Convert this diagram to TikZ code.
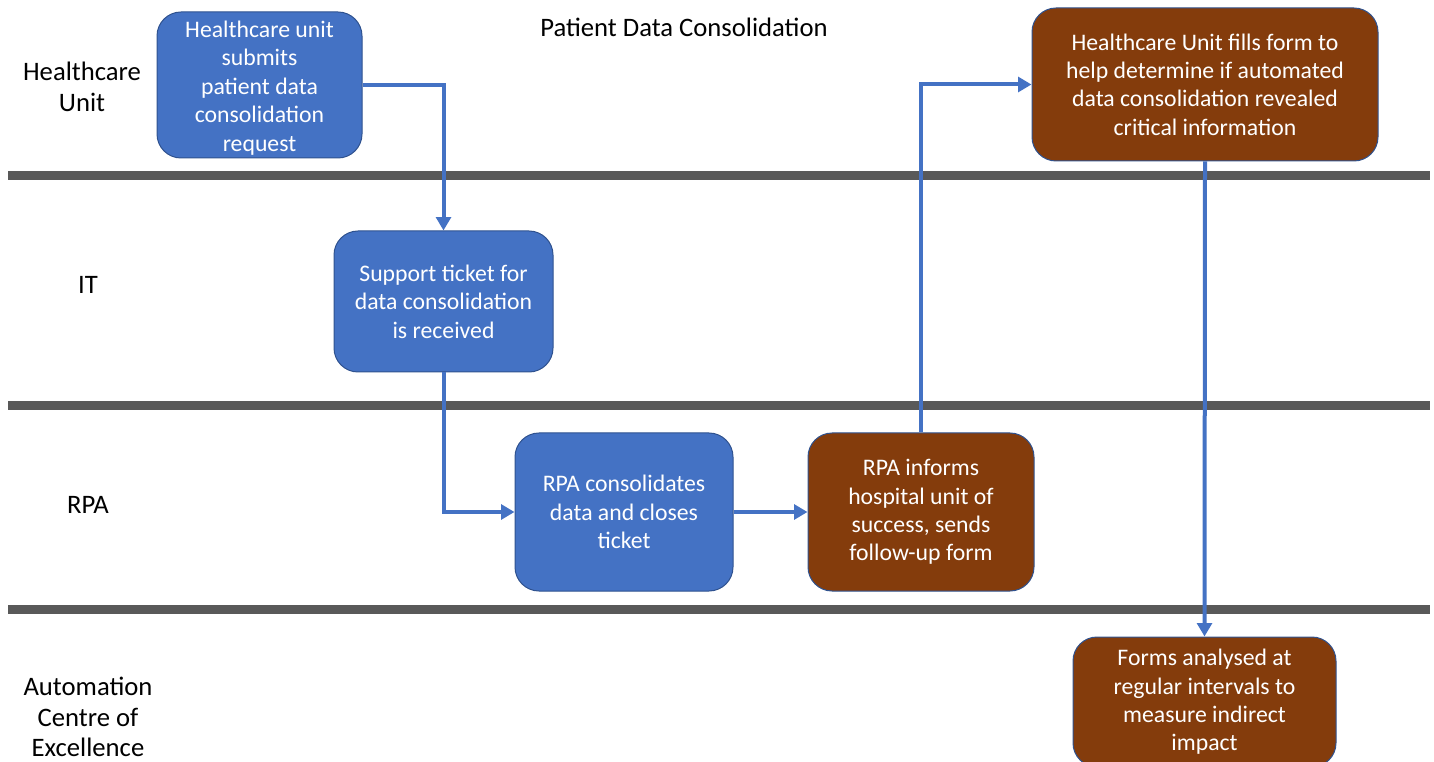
\documentclass[tikz,border=0pt]{standalone}
\usepackage{fontspec}
\setmainfont{Carlito}
\usetikzlibrary{arrows.meta}
\definecolor{boxblue}{HTML}{4472C4}
\definecolor{boxbrown}{HTML}{843C0C}
\definecolor{boxedge}{HTML}{2F528F}
\definecolor{lanegray}{HTML}{595959}
\begin{document}
\begin{tikzpicture}[x=0.75pt,y=-0.75pt,
  txt/.style={font=\fontsize{17.8}{21.3}\selectfont, align=center},
  box/.style={txt, rounded corners=18pt, draw=boxedge, line width=0.75pt,
    text=white, inner sep=0pt},
  bluebox/.style={box, fill=boxblue},
  brownbox/.style={box, fill=boxbrown},
  flow/.style={draw=boxblue, line width=3pt,
    -{Triangle[length=10pt,width=11pt]}},
  lane/.style={draw=lanegray, line width=6.75pt},
  lanelabel/.style={font=\fontsize{20}{23}\selectfont, align=center,
    text=black, inner sep=0pt}
]
\useasboundingbox (0,0) rectangle (1434,762);

% swimlane separators
\draw[lane] (8,176) -- (1430,176);
\draw[lane] (8,406) -- (1430,406);
\draw[lane] (8,609) -- (1430,609);

% title and lane names
\node[lanelabel] (title) at (684,27) {Patient Data Consolidation};
\node[lanelabel] (lhu) at (82,87) {Healthcare\\Unit};
\node[lanelabel] (lit) at (88,285) {IT};
\node[lanelabel] (lrpa) at (88,505) {RPA};
\node[lanelabel] (lace) at (88,717) {Automation\\Centre of\\Excellence};

% process steps
\node[bluebox, minimum width=153.75pt, minimum height=109.5pt] (hu) at (259.5,85) {};
\node[txt, text=white, inner sep=0pt] (hutext) at (259.5,88)
  {Healthcare unit\\submits\\patient data\\consolidation\\request};
\node[bluebox, minimum width=164.25pt, minimum height=105.75pt] (it) at (443.5,301.5)
  {Support ticket for\\data consolidation\\is received};
\node[bluebox, minimum width=163.5pt, minimum height=118.5pt] (cons) at (624,512)
  {RPA consolidates\\data and closes\\ticket};
\node[brownbox, minimum width=169.5pt, minimum height=118.5pt] (inform) at (921,512)
  {RPA informs\\hospital unit of\\success, sends\\follow-up form};
\node[brownbox, minimum width=259.5pt, minimum height=114.75pt] (fills) at (1205,84.5)
  {Healthcare Unit fills form to\\help determine if automated\\data consolidation revealed\\critical information};
\node[brownbox, minimum width=197.25pt, minimum height=97.5pt] (forms) at (1204.5,702)
  {Forms analysed at\\regular intervals to\\measure indirect\\impact};

% flow connectors
\draw[flow] (hu.east) -| (it.north);
\draw[flow] (it.south) |- (cons.west);
\draw[flow] (cons.east) -- (inform.west);
\draw[flow] (inform.north) |- (fills.west);
\draw[flow] (fills.south) -- (forms.north);
\end{tikzpicture}
\end{document}
